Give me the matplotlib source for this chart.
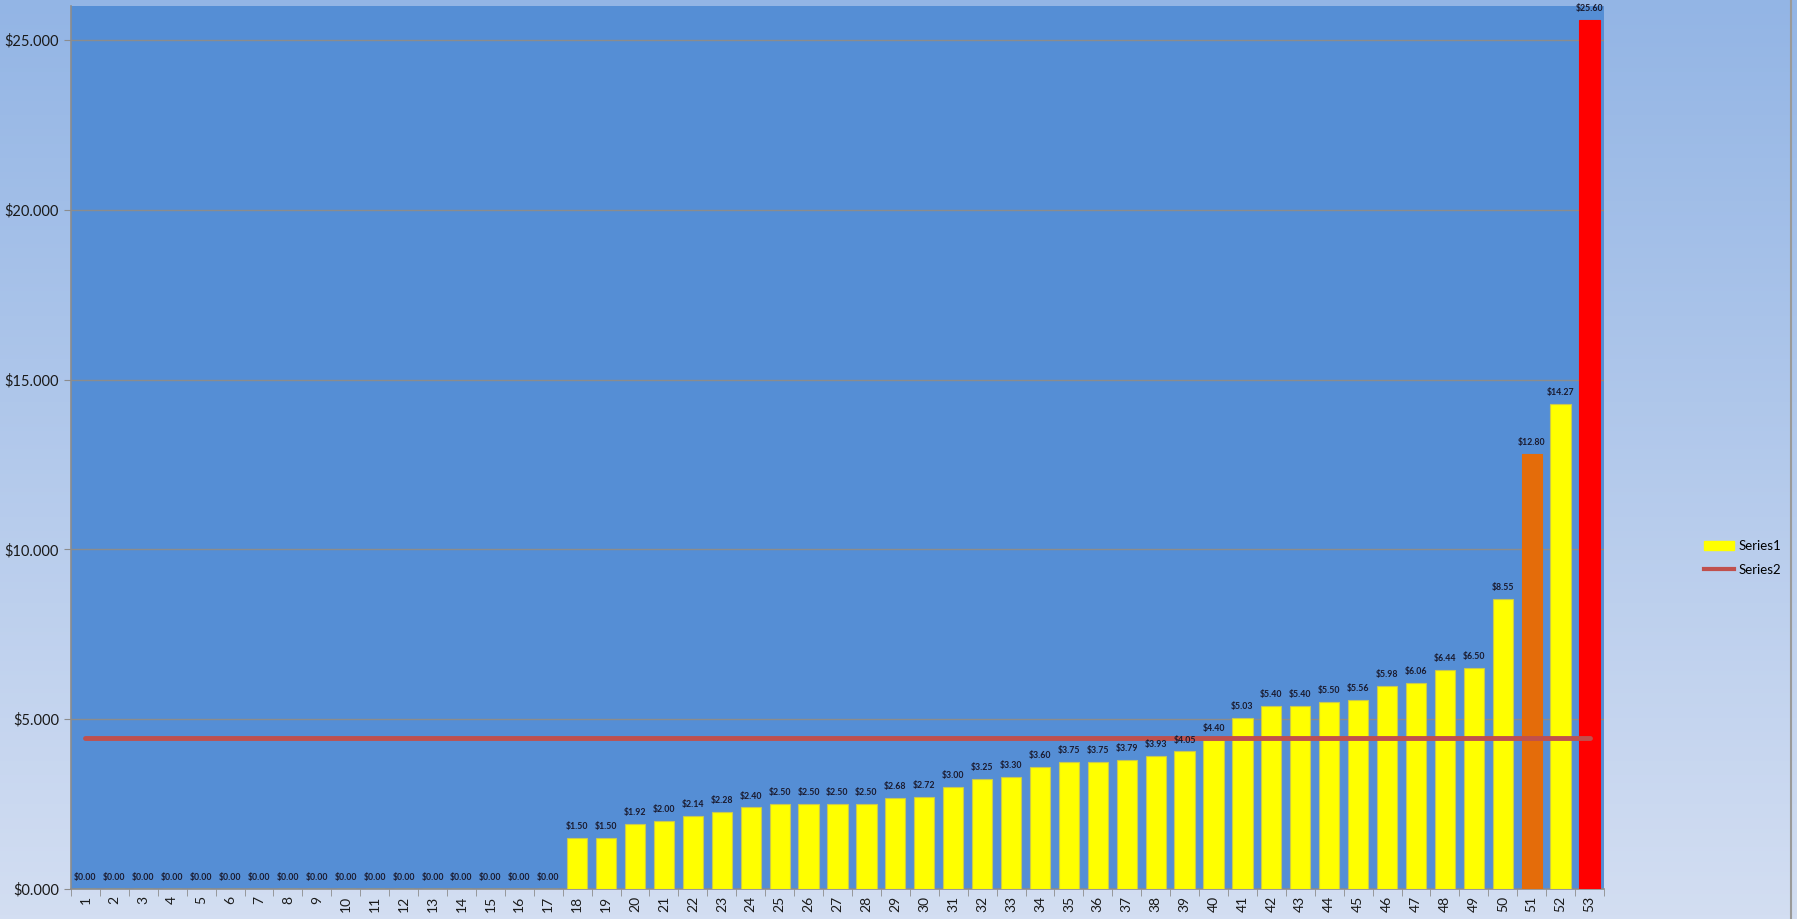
import matplotlib
matplotlib.use("Agg")
import matplotlib.pyplot as plt
import numpy as np
from matplotlib.lines import Line2D
from matplotlib.patches import Patch

categories = list(range(1, 54))
series1 = [0.00] * 17 + [
    1.50, 1.50, 1.92, 2.00, 2.14, 2.28, 2.40, 2.50, 2.50, 2.50, 2.50, 2.68,
    2.72, 3.00, 3.25, 3.30, 3.60, 3.75, 3.75, 3.79, 3.93, 4.05, 4.40, 5.03,
    5.40, 5.40, 5.50, 5.56, 5.98, 6.06, 6.44, 6.50, 8.55, 12.80, 14.27, 25.60,
]
series2 = [4.45] * 53
bar_colors = ["#ffff00"] * 50 + ["#e46c0a", "#ffff00", "#ff0000"]
edge_colors = ["#c8c850"] * 50 + ["#e46c0a", "#c8c850", "#ff0000"]
yticks = [0, 5, 10, 15, 20, 25]

plt.rcParams['font.family'] = ['Lato', 'DejaVu Sans']

fig = plt.figure(figsize=(17.97, 9.19), dpi=100)

# gradient background for the whole chart
bg = fig.add_axes([0, 0, 1, 1], zorder=-10)
grad = np.linspace(0, 1, 256).reshape(-1, 1)
top = np.array([0x93, 0xb5, 0xe5]) / 255
bot = np.array([0xd3, 0xde, 0xf2]) / 255
img = top + (bot - top) * grad[:, :, None]
bg.imshow(img, aspect='auto', extent=[0, 1, 0, 1])
bg.axis('off')
bg.axvline(0.9965, color="#9a9a9a", lw=1.5)

W, H = 1797, 919
left, right, topp, bottom = 71, 1604, 6, 889
ax = fig.add_axes([left / W, 1 - bottom / H, (right - left) / W, (bottom - topp) / H])
ax.set_facecolor("#558ed5")

x = np.array(categories)
ax.bar(x, series1, width=0.7, color=bar_colors, edgecolor=edge_colors, linewidth=0.8, zorder=3)
ax.plot(x, series2, color="#c0504d", lw=3.5, zorder=4, solid_capstyle='round')

for xi, v in zip(x, series1):
    ax.annotate(f"${v:.2f}", (xi, v), xytext=(0, 5), textcoords='offset points',
                ha='center', va='bottom', fontsize=6.3, fontweight='bold', color="#1a1a2e", zorder=5)

ax.set_xlim(0.5, 53.5)
ax.set_ylim(0, 26)
ax.set_yticks(yticks)
ax.set_yticklabels([f"${v:.3f}" for v in yticks], fontsize=10.5, color="#1a1a1a")
ax.set_xticks(x)
ax.set_xticklabels([str(c) for c in categories], rotation=90, fontsize=10, color="#1a1a1a")
ax.set_xticks(np.arange(0.5, 54, 1), minor=True)
ax.tick_params(axis='x', which='major', length=0, pad=5)
ax.tick_params(axis='x', which='minor', length=5, color="#8c8c8c", direction='out')
ax.tick_params(axis='y', length=5, color="#8c8c8c", direction='out')
ax.grid(axis='y', color="#8c8c8c", lw=1, zorder=1)
for s in ['top', 'right']:
    ax.spines[s].set_visible(False)
for s in ['left', 'bottom']:
    ax.spines[s].set_color("#8c8c8c")
    ax.spines[s].set_linewidth(1.2)

handles = [Patch(facecolor="#ffff00", edgecolor="#ffff00", label="Series1"),
           Line2D([0], [0], color="#c0504d", lw=3, label="Series2")]
fig.legend(handles=handles, loc='center left', bbox_to_anchor=(1692 / W, 1 - 558 / H),
           frameon=False, fontsize=9.5, handlelength=2.3, handletextpad=0.3,
           labelspacing=0.9, prop={'size': 9.5})

fig.savefig("out.png", dpi=100)
